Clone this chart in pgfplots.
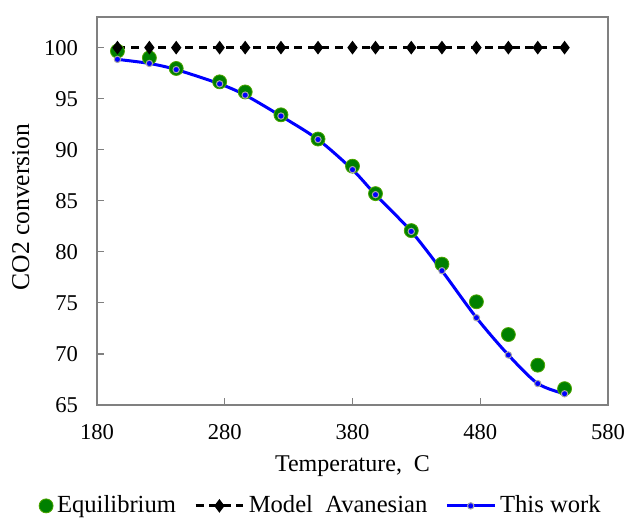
\documentclass[border=0pt]{standalone}
\usepackage{fontspec}
\setmainfont{Liberation Serif}
\usepackage{pgfplots}
\pgfplotsset{compat=1.18}
\definecolor{eqgreen}{RGB}{0,128,0}
\definecolor{axgray}{RGB}{128,128,128}
\pgfplotsset{longleg/.style={legend image code/.code={\draw[mark repeat=2,mark phase=2,##1] plot coordinates {(0cm,0cm) (0.42cm,0cm) (0.84cm,0cm)};}}}
\begin{document}
\begin{tikzpicture}
\begin{axis}[
  scale only axis,
  width=255.5pt, height=194pt,
  xmin=180, xmax=580, ymin=65, ymax=103,
  xtick={180,280,...,580}, ytick={65,70,...,100},
  tick align=inside, major tick length=3.5pt,
  xtick pos=bottom, ytick pos=left,
  axis line style={axgray, line width=0.6pt},
  every tick/.style={axgray, line width=0.6pt},
  tick label style={font=\fontsize{11.3}{13}\selectfont, black},
  /pgf/number format/assume math mode=true,
  xticklabel style={yshift=-6pt},
  yticklabel style={xshift=-6pt},
  xlabel={Temperature,\ \ C}, ylabel={CO2 conversion},
  xlabel style={font=\fontsize{12}{14}\selectfont, yshift=-1.5pt},
  ylabel style={font=\fontsize{12.8}{14}\selectfont, yshift=0.5pt, xshift=2pt},
  legend columns=3,
  legend style={draw=none, at={(0.44,-0.26)}, anchor=center, font=\fontsize{12.3}{14}\selectfont,
    /tikz/every even column/.append style={column sep=7pt}},
  legend cell align=left,
]
\addplot[only marks, mark=*, mark size=3.5pt, color=eqgreen, mark options={draw=eqgreen!70!yellow, line width=0.4pt, fill=eqgreen}] coordinates {
(196,99.66) (221,99.0) (242,97.96) (276,96.65) (296,95.66) (324,93.42) (353,91.05) (380,88.39) (398,85.70) (426,82.08) (450,78.8) (477,75.11) (502,71.9) (525,68.9) (546,66.6)};
\addlegendentry{Equilibrium}
\addplot[longleg, black, line width=1.5pt, dash pattern=on 4pt off 2.8pt, mark=diamond*, mark size=2.2pt, mark options={solid, fill=black}] coordinates {
(196,100) (221,100) (242,100) (276,100) (296,100) (324,100) (353,100) (380,100) (398,100) (426,100) (450,100) (477,100) (502,100) (525,100) (546,100)};
\addlegendentry{Model\ \ Avanesian}
\addplot[longleg, blue, line width=1.5pt, smooth, mark=*, mark size=1.6pt, mark options={fill=blue, draw=gray!70, line width=0.5pt}] coordinates {
(196,98.85) (221,98.45) (242,97.85) (276,96.45) (296,95.35) (324,93.3) (353,91.0) (380,88.05) (398,85.6) (426,82.0) (450,78.15) (477,73.55) (502,69.9) (525,67.1) (546,66.1)};
\addlegendentry{This work}
\end{axis}
\pgfresetboundingbox
\path[use as bounding box] ([xshift=-48.5pt,yshift=-56.5pt]current axis.south west) rectangle ([xshift=11pt,yshift=8.5pt]current axis.north east);
\end{tikzpicture}
\end{document}
